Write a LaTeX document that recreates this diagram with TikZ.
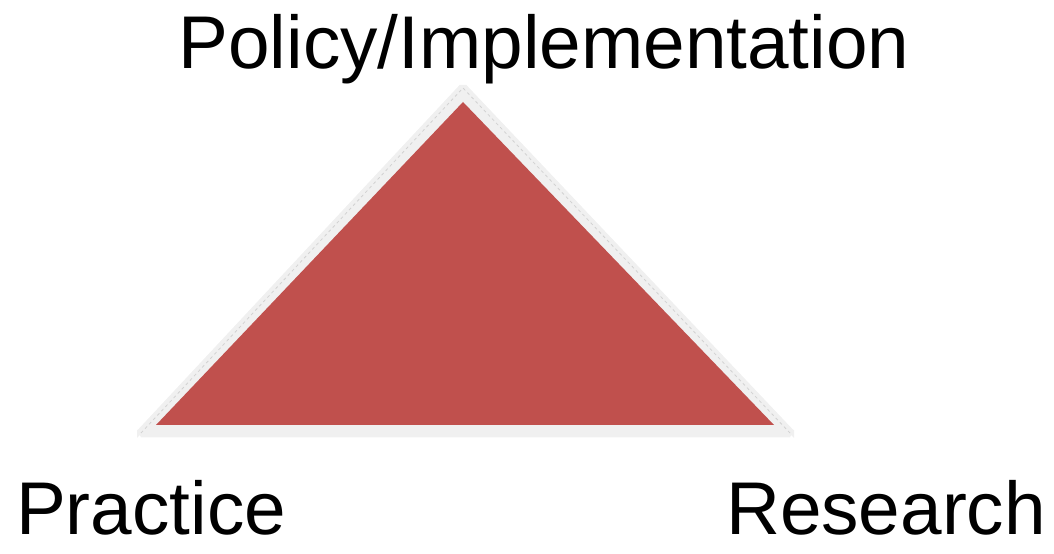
\documentclass[tikz,border=0pt]{standalone}
\usepackage{fontspec}
\setmainfont{Liberation Sans}
\usetikzlibrary{positioning}
\definecolor{trired}{HTML}{C0504D}

\begin{document}
\begin{tikzpicture}[
		x=1bp, y=1bp,
		cornerlabel/.style={anchor=base, inner sep=0pt, font=\fontsize{75}{80}\selectfont},
		rim/.style={draw=gray!12, line width=9bp, line join=bevel, fill=gray!12},
		rimdash/.style={draw=gray!35, line width=0.8bp, dashed},
		face/.style={fill=trired}
	]

	\useasboundingbox (0,0) rectangle (1054,554);

	% outer corners
	\coordinate (top) at (463, 466);
	\coordinate (left) at (141, 121);
	\coordinate (right) at (790, 121);

	% inner corners
	\coordinate (top-in) at (463, 452);
	\coordinate (left-in) at (156, 129);
	\coordinate (right-in) at (774, 129);

	\fill[gray!12] (137,116) -- (top) -- (794,116) -- (794,124) -- (137,124) -- cycle;
	\draw[rim] (left) -- (top) -- (right) -- cycle;
	\draw[rimdash] (left) -- (top) -- (right);
	\fill[face] (left-in) -- (top-in) -- (right-in) -- cycle;

	\node[cornerlabel] (policy) at (544, 485) {Policy/Implementation};
	\node[cornerlabel] (practice) at (151, 19) {Practice};
	\node[cornerlabel] (research) at (886, 19) {Research};

\end{tikzpicture}
\end{document}
